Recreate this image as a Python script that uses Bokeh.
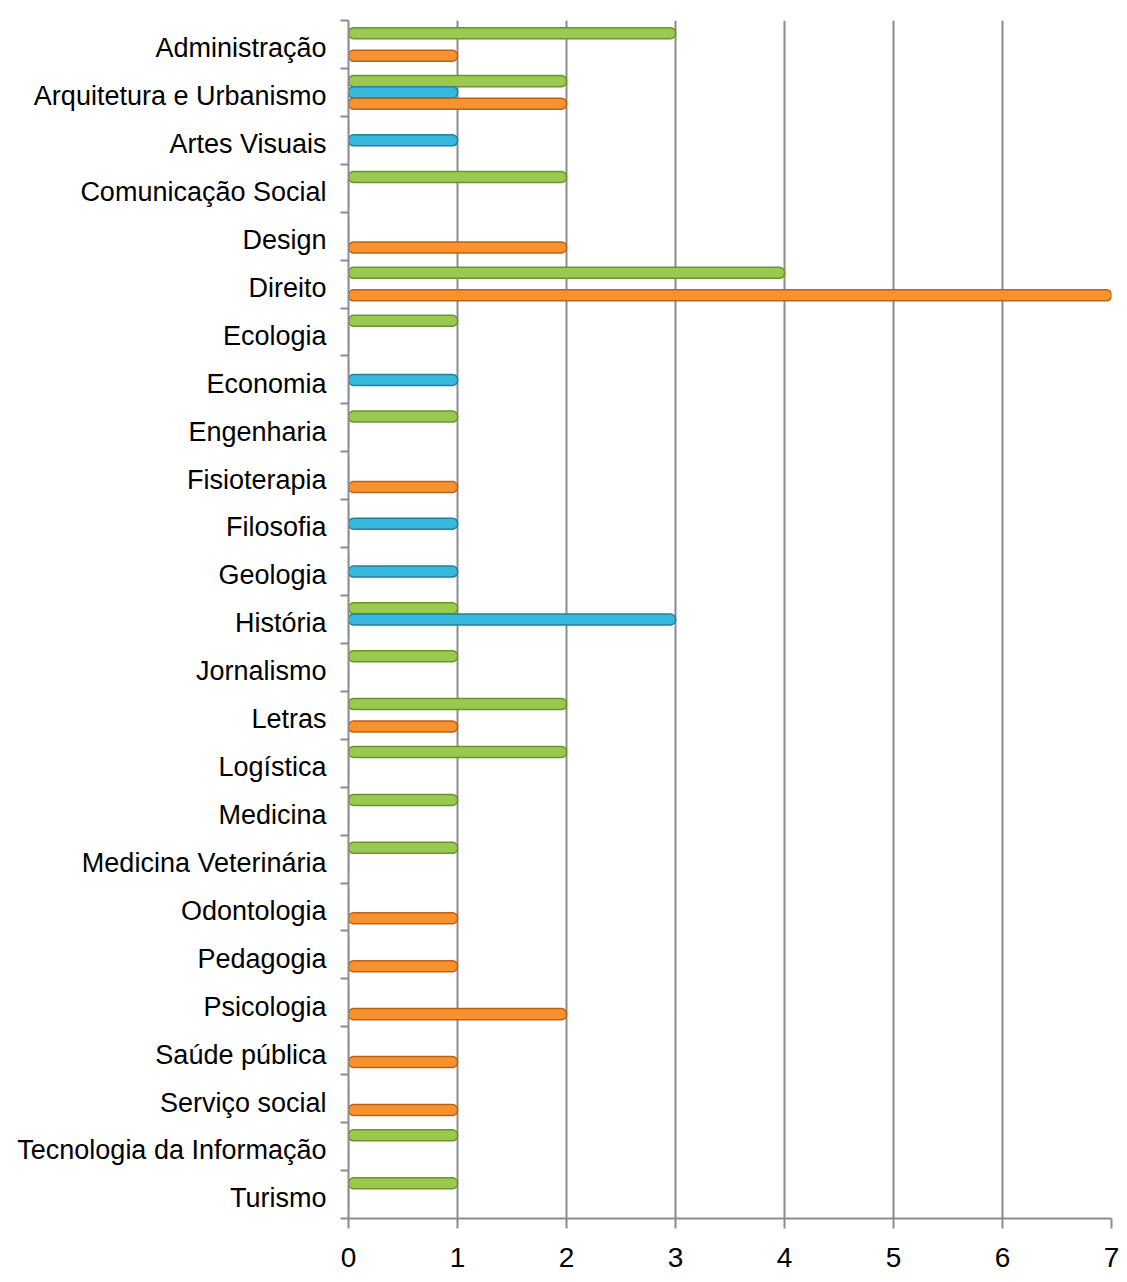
from bokeh.plotting import figure
from bokeh.models import ColumnDataSource, Range1d, FixedTicker
from bokeh.transform import dodge
from bokeh.embed import file_html
from bokeh.resources import INLINE

categories = [
    "Administração", "Arquitetura e Urbanismo", "Artes Visuais", "Comunicação Social",
    "Design", "Direito", "Ecologia", "Economia", "Engenharia", "Fisioterapia",
    "Filosofia", "Geologia", "História", "Jornalismo", "Letras", "Logística",
    "Medicina", "Medicina Veterinária", "Odontologia", "Pedagogia", "Psicologia",
    "Saúde pública", "Serviço social", "Tecnologia da Informação", "Turismo",
]
green = [3, 2, 0, 2, 0, 4, 1, 0, 1, 0, 0, 0, 1, 1, 2, 2, 1, 1, 0, 0, 0, 0, 0, 1, 1]
blue = [0, 1, 1, 0, 0, 0, 0, 1, 0, 0, 1, 1, 3, 0, 0, 0, 0, 0, 0, 0, 0, 0, 0, 0, 0]
orange = [1, 2, 0, 0, 2, 7, 0, 0, 0, 1, 0, 0, 0, 0, 1, 0, 0, 0, 1, 1, 2, 1, 1, 0, 0]
x_ticks = [0, 1, 2, 3, 4, 5, 6, 7]

n = len(categories)
pos = [i + 0.5 for i in range(n)]
label_pos = [i + 0.58 for i in range(n)]
src = ColumnDataSource(dict(pos=pos, green=green, blue=blue, orange=orange))

FONT = "Liberation Sans"
GRID = "#8c8c8c"

p = figure(width=1119, height=1274, x_range=Range1d(0, 7), y_range=Range1d(n, 0),
           output_backend="svg", toolbar_location=None,
           min_border_left=348, min_border_right=8, min_border_top=20, min_border_bottom=56)
p.outline_line_color = None
p.background_fill_color = "white"
p.border_fill_color = "white"

h = 0.23
off = 0.235
p.hbar(y=dodge("pos", -off), right="green", left=0, height=h, source=src,
       fill_color="#9bc84f", line_color="#6a9430", line_width=1.5, border_radius=5)
p.hbar(y=dodge("pos", 0), right="blue", left=0, height=h, source=src,
       fill_color="#37b9dd", line_color="#22809a", line_width=1.5, border_radius=5)
p.hbar(y=dodge("pos", off), right="orange", left=0, height=h, source=src,
       fill_color="#f8922e", line_color="#b8621c", line_width=1.5, border_radius=5)

p.xgrid.grid_line_color = GRID
p.xgrid.grid_line_width = 2
p.ygrid.visible = False
p.xgrid.ticker = FixedTicker(ticks=x_ticks)

xa = p.xaxis[0]
xa.ticker = FixedTicker(ticks=x_ticks)
xa.axis_line_color = GRID
xa.axis_line_width = 2
xa.major_tick_line_color = GRID
xa.major_tick_line_width = 2
xa.major_tick_out = 10
xa.major_tick_in = 0
xa.minor_tick_line_color = None
xa.major_label_standoff = 19
xa.major_label_text_font = FONT
xa.major_label_text_font_size = "28px"
xa.major_label_text_color = "black"

ya = p.yaxis[0]
ya.ticker = FixedTicker(ticks=label_pos, minor_ticks=list(range(n + 1)))
ya.major_label_overrides = {pv: c for pv, c in zip(label_pos, categories)}
ya.axis_line_color = GRID
ya.axis_line_width = 2
ya.major_tick_line_color = None
ya.major_tick_out = 0
ya.major_tick_in = 0
ya.minor_tick_line_color = GRID
ya.minor_tick_line_width = 2
ya.minor_tick_out = 8
ya.minor_tick_in = 0
ya.major_label_standoff = 14
ya.major_label_text_font = FONT
ya.major_label_text_font_size = "27px"
ya.major_label_text_color = "black"

open("out.html", "w").write(file_html(p, INLINE))
